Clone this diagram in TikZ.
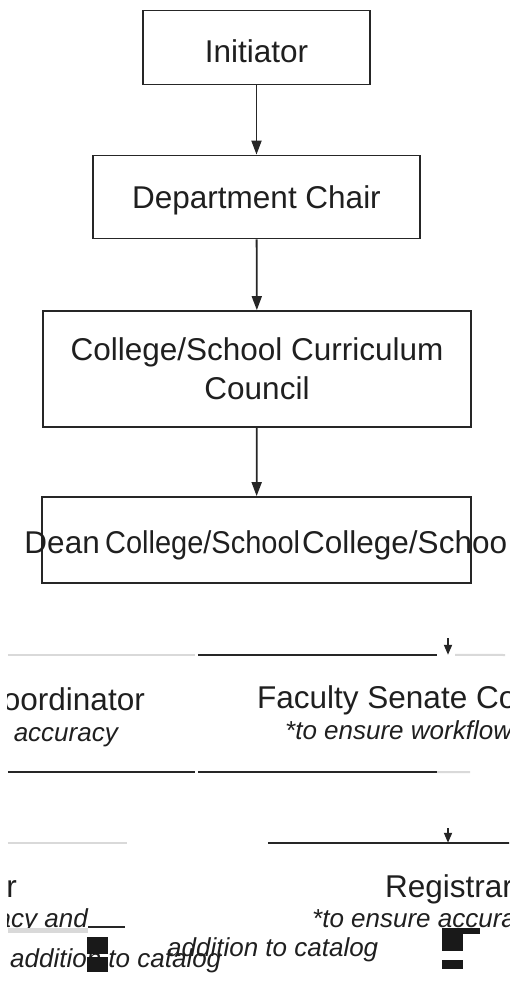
\documentclass[tikz,border=0pt]{standalone}
\usepackage{fontspec}
\setmainfont{Liberation Sans}
\usetikzlibrary{arrows.meta}
\newcommand\diaF{\fontsize{31.5}{39}\selectfont}
\newcommand\diaI{\fontsize{26}{30}\selectfont\itshape}
\begin{document}
\begin{tikzpicture}[x=1pt,y=-1pt,
 line/.style={draw=black!85,line width=1.8pt},
 box/.style={line, inner sep=0pt, align=center, font=\diaF, text=black!88},
 one/.style={text height=22.5pt, text depth=0pt},
 arr/.style={line, -{Triangle[length=14pt,width=10pt]}},
 sarr/.style={line, -{Triangle[length=10pt,width=8pt]}},
 rowbox/.style={inner sep=0pt, draw=none},
 lbl/.style={inner sep=0pt, font=\diaF, text=black!88},
 note/.style={inner sep=0pt, font=\diaI, text=black!88},
 faint/.style={draw=black!15, line width=2pt},
 blot/.style={fill=black!90, draw=none}]
\useasboundingbox (0,0) rectangle (509,982);

% main chain
\node[box,one,text height=31pt,minimum width=227pt,minimum height=74pt] (init) at (256.5,47.5) {Initiator};
\node[box,one,minimum width=327pt,minimum height=83pt] (dept) at (256.5,197) {Department Chair};
\node[box,minimum width=428pt,minimum height=116pt] (csc) at (257,369) {College/School Curriculum\\Council};
\node[box,minimum width=429pt,minimum height=86pt] (dean) at (256.5,540) {};
\draw[arr] (init) -- (dept);
\draw[arr] (dept) -- (csc);
\draw[arr] (csc) -- (dean);

\begin{scope}
\clip (7,0) rectangle (509,982);
% dean texts (overprinted)
\node[lbl,anchor=base east] (deanA) at (100,553) {Dean};
\node[lbl,anchor=base west,xscale=0.92,transform shape] (deanB) at (105,553) {College/School};
\node[lbl,anchor=base west] (deanC) at (302,553) {College/Schoo};

% row 2
\node[rowbox,minimum width=187pt,minimum height=117pt] (cc) at (101.5,713.5) {};
\draw[faint] (cc.north west) -- (cc.north east);
\draw[line] (cc.south west) -- (cc.south east);
\node[rowbox,minimum width=239pt,minimum height=117pt] (fs) at (317.5,713.5) {};
\draw[line] (fs.north west) -- (fs.north east);
\draw[line] (fs.south west) -- (fs.south east);
\coordinate (fsr) at (505,655);
\coordinate (fsb) at (470,772);
\draw[faint] ([xshift=18pt]fs.north east) -- (fsr);
\draw[faint] (fs.south east) -- (fsb);
\coordinate (a2) at (448,638);
\draw[sarr] (a2) -- (a2 |- fs.north);

\node[lbl,anchor=base east] (ccT) at (145,710) {Coordinator};
\node[note,anchor=base east] (ccN) at (118,741) {accuracy};
\node[lbl,anchor=base west] (fsT) at (257,708) {Faculty Senate Co};
\node[note,anchor=base west] (fsN) at (285,739) {*to ensure workflow};

% row 3
\node[rowbox,minimum width=119pt,minimum height=100pt] (rl) at (67.5,893) {};
\draw[faint] (rl.north west) -- (rl.north east);
\node[rowbox,minimum width=250pt,minimum height=100pt] (rr) at (393,893) {};
\draw[line] (rr.north west) -- (rr.north east);
\coordinate (a3) at (448,828);
\draw[sarr] (a3) -- (a3 |- rr.north);

\node[lbl,anchor=base east] (rlT) at (17,897) {r};
\node[note,anchor=base east] (rlN) at (88,927) {acy and};
\node[note,anchor=base west] (rlN2) at (10,967) {addition to catalog};
\node[lbl,anchor=base west] (rrT) at (385,897) {Registrar};
\node[note,anchor=base west] (rrN) at (312,927) {*to ensure accura};
\node[note,anchor=base west] (rrN2) at (167,956) {addition to catalog};

% stray marks
\fill[black!15] (8,928) rectangle (88,933);
\draw[line] (88,927) -- (125,927);
\fill[blot] (87,937) rectangle (108,954);
\fill[blot] (87,957) rectangle (108,972);
\fill[blot] (442,928) rectangle (480,934);
\fill[blot] (442,934) rectangle (463,951);
\fill[blot] (442,960) rectangle (463,969);
\end{scope}
\end{tikzpicture}
\end{document}
